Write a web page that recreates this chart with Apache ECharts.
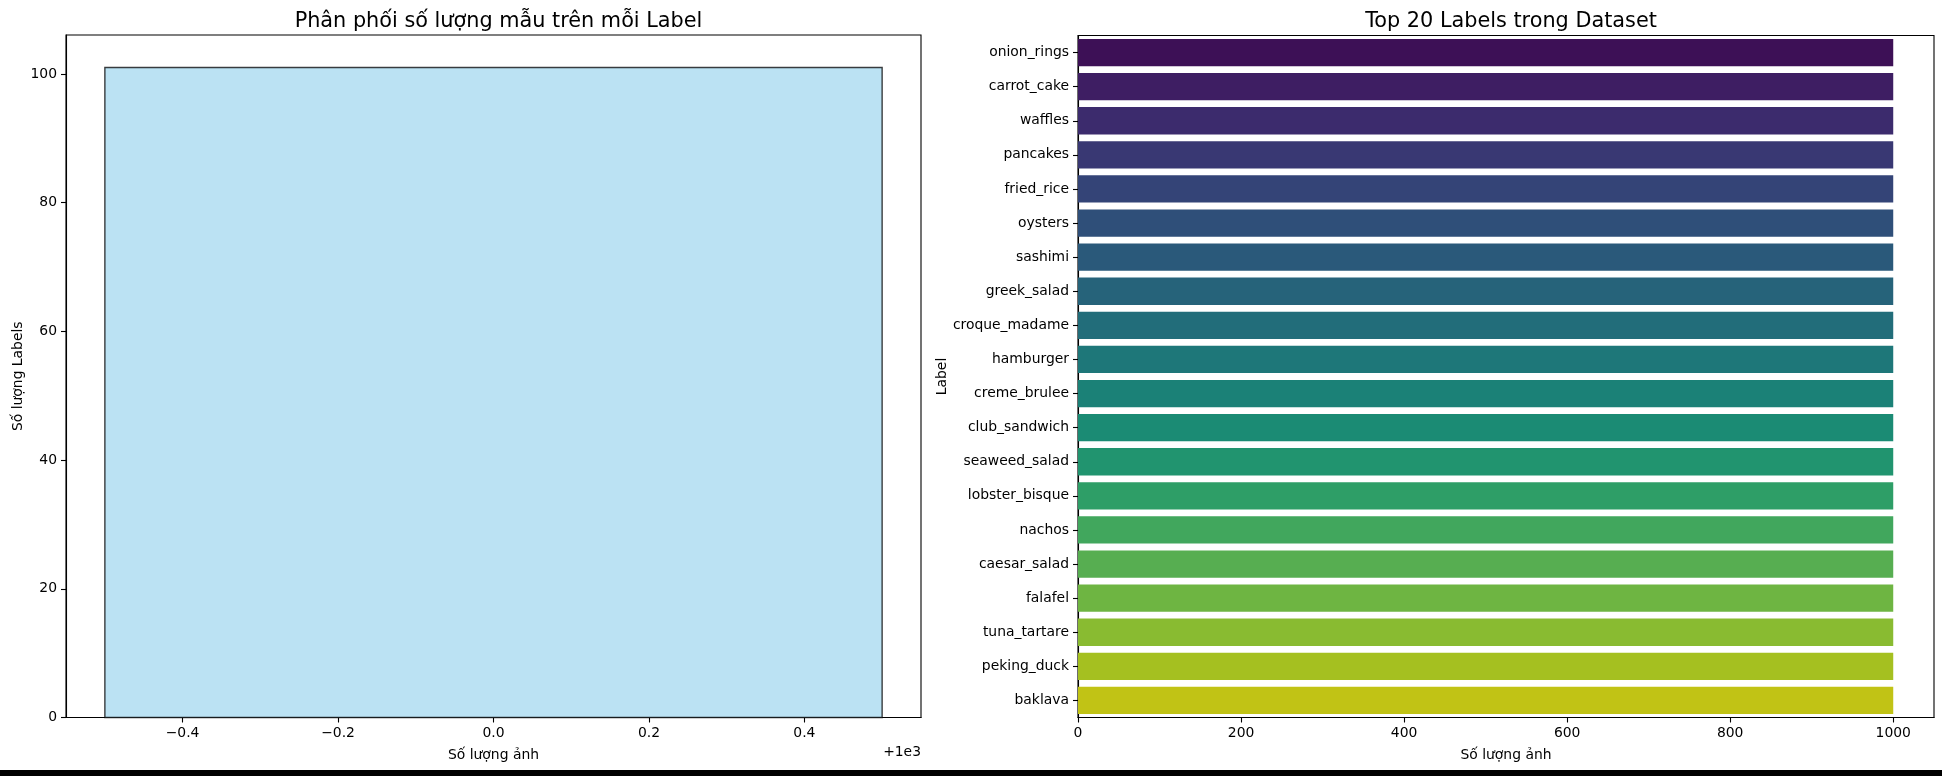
<!DOCTYPE html>
<html><head><meta charset="utf-8">
<script src="https://cdn.jsdelivr.net/npm/echarts@6/dist/echarts.min.js"></script>
<style>
html,body{margin:0;padding:0;background:#fff;}
#c{width:1942px;height:776px;}
#strip{position:absolute;left:0;top:770px;width:1942px;height:6px;background:#000;}
</style>
</head><body>
<div id="c"></div><div id="strip"></div>
<script>
// ---- data ----
const histBinStart = [999.5];
const histBinEnd = [1000.5];
const histCounts = [101];
const histXTicks = [999.6, 999.8, 1000.0, 1000.2, 1000.4];
const histYTicks = [0, 20, 40, 60, 80, 100];
const topLabels = ['onion_rings','carrot_cake','waffles','pancakes','fried_rice','oysters','sashimi','greek_salad','croque_madame','hamburger','creme_brulee','club_sandwich','seaweed_salad','lobster_bisque','nachos','caesar_salad','falafel','tuna_tartare','peking_duck','baklava'];
const topCounts = [1000,1000,1000,1000,1000,1000,1000,1000,1000,1000,1000,1000,1000,1000,1000,1000,1000,1000,1000,1000];
const topXTicks = [0, 200, 400, 600, 800, 1000];

// ---- style: viridis palette (darkened to match reference) ----
const viridisAnchors = ['#440154','#471365','#482475','#463480','#414487','#3b528b','#355f8d','#2f6c8e','#2a788e','#25848e','#21918c','#1e9c89','#22a884','#2fb47c','#44bf70','#5ec962','#7ad151','#9bd93c','#bddf26','#dfe318','#fde725'];
function hex2rgb(h){return [parseInt(h.slice(1,3),16)/255,parseInt(h.slice(3,5),16)/255,parseInt(h.slice(5,7),16)/255];}
function viridis(t){
  const f=t*20, i=Math.min(19,Math.floor(f)), u=f-i;
  const a=hex2rgb(viridisAnchors[i]), b=hex2rgb(viridisAnchors[i+1]);
  return [0,1,2].map(k=>a[k]+(b[k]-a[k])*u);
}
function toHex(c){return '#'+c.map(x=>Math.round(Math.max(0,Math.min(1,x))*255).toString(16).padStart(2,'0')).join('');}
const barColors = topLabels.map((_,i)=>toHex(viridis((i+1)/(topLabels.length+1)).map(x=>x*0.86)));

const FONT = 'DejaVu Sans';
const tickFont = {fontFamily:FONT, fontSize:13.9, color:'#000'};
const chart = echarts.init(document.getElementById('c'), null, {renderer:'canvas'});

chart.setOption({
  animation:false,
  backgroundColor:'#fff',
  title:[
    {text:'Phân phối số lượng mẫu trên mỗi Label', left:493.5, top:6, textAlign:'center',
     textStyle:{fontFamily:FONT, fontSize:20.8, fontWeight:'normal', color:'#000'}},
    {text:'Top 20 Labels trong Dataset', left:1506, top:6, textAlign:'center',
     textStyle:{fontFamily:FONT, fontSize:20.8, fontWeight:'normal', color:'#000'}}
  ],
  grid:[
    {left:66, right:1021, top:35, bottom:58.5, show:true, borderColor:'#000', borderWidth:1.1, backgroundColor:'transparent'},
    {left:1078, right:8, top:35.5, bottom:58.5, show:true, borderColor:'#000', borderWidth:1.1, backgroundColor:'transparent'}
  ],
  xAxis:[
    {type:'value', gridIndex:0, min:999.45, max:1000.55,
     name:'Số lượng ảnh', nameLocation:'middle', nameGap:31,
     nameTextStyle:{fontFamily:FONT, fontSize:13.9, color:'#000'},
     axisLine:{show:true, lineStyle:{color:'#000', width:1.1}},
     axisTick:{show:true, length:5, lineStyle:{color:'#000', width:1.1}, customValues:histXTicks},
     axisLabel:Object.assign({margin:9, customValues:histXTicks,
       formatter:v=>(v-1000).toFixed(1).replace('-','\u2212').replace('\u22120.0','0.0')}, tickFont),
     splitLine:{show:false}},
    {type:'value', gridIndex:1, min:0, max:1050,
     name:'Số lượng ảnh', nameLocation:'middle', nameGap:31,
     nameTextStyle:{fontFamily:FONT, fontSize:13.9, color:'#000'},
     axisLine:{show:true, lineStyle:{color:'#000', width:1.1}},
     axisTick:{show:true, length:5, lineStyle:{color:'#000', width:1.1}, customValues:topXTicks},
     axisLabel:Object.assign({margin:9, customValues:topXTicks, formatter:v=>String(Math.round(v))}, tickFont),
     splitLine:{show:false}}
  ],
  yAxis:[
    {type:'value', gridIndex:0, min:0, max:106.05,
     name:'Số lượng Labels', nameLocation:'middle', nameGap:41,
     nameTextStyle:{fontFamily:FONT, fontSize:13.9, color:'#000'},
     axisLine:{show:true, lineStyle:{color:'#000', width:1.1}},
     axisTick:{show:true, length:5, lineStyle:{color:'#000', width:1.1}, customValues:histYTicks},
     axisLabel:Object.assign({margin:9, customValues:histYTicks}, tickFont),
     splitLine:{show:false}},
    {type:'category', gridIndex:1, data:topLabels, inverse:true,
     name:'Label', nameLocation:'middle', nameGap:129,
     nameTextStyle:{fontFamily:FONT, fontSize:13.9, color:'#000'},
     axisLine:{show:true, lineStyle:{color:'#000', width:1.1}},
     axisTick:{show:true, length:5, alignWithLabel:true, lineStyle:{color:'#000', width:1.1}},
     axisLabel:Object.assign({margin:9, interval:0}, tickFont),
     splitLine:{show:false}}
  ],
  graphic:[
    {type:'text', right:1942-921, top:745, style:{text:'+1e3', fontFamily:FONT, fontSize:13.9, fill:'#000'}}
  ],
  series:[
    {type:'custom', xAxisIndex:0, yAxisIndex:0,
     data:histBinStart.map((s,i)=>[s, histBinEnd[i], histCounts[i]]),
     encode:{x:[0,1], y:2},
     renderItem:function(params, api){
       const p0 = api.coord([api.value(0), api.value(2)]);
       const p1 = api.coord([api.value(1), 0]);
       return {type:'rect', shape:{x:p0[0], y:p0[1], width:p1[0]-p0[0], height:p1[1]-p0[1]},
               style:{fill:'#bbe2f3', stroke:'rgba(0,0,0,0.75)', lineWidth:1.4}};
     }},
    {type:'bar', xAxisIndex:1, yAxisIndex:1, barCategoryGap:'20%',
     data:topCounts.map((v,i)=>({value:v, itemStyle:{color:barColors[i]}}))}
  ]
});
</script>
</body></html>
